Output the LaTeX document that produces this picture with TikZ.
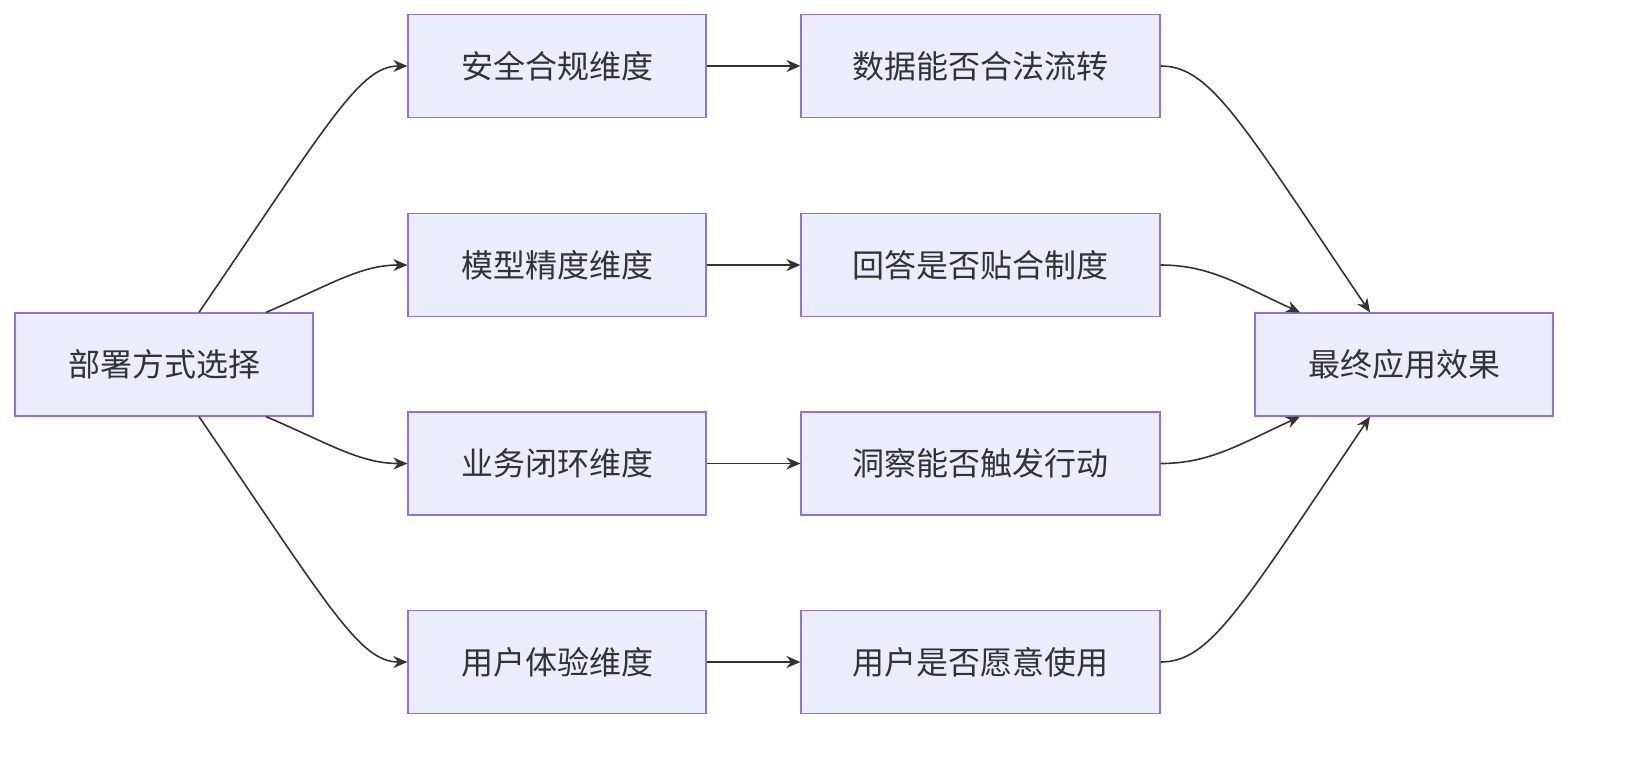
\documentclass[tikz,border=0pt]{standalone}
\usepackage{fontspec}
\setmainfont{Noto Sans CJK SC}
\usetikzlibrary{arrows.meta}
\definecolor{boxfill}{HTML}{ECECFF}
\definecolor{boxline}{HTML}{9370DB}
\definecolor{edge}{HTML}{333333}
\tikzset{
  box/.style = {draw = boxline, fill = boxfill, line width = 1.2pt, shape = rectangle, minimum width = 298pt, minimum height = 103pt, font = \fontsize{32}{38}\selectfont, text = edge},
  wide/.style = {box, minimum width = 359pt},
  link/.style = {draw = edge, line width = 1.6pt, -{Stealth[length = 14pt, width = 12pt]}}
}
\begin{document}
\begin{tikzpicture}[x = 1pt, y = -1pt]
\fill[white] (0,0) rectangle (1644,764);
\useasboundingbox (0,0) rectangle (1644,764);
\node[box] (choice) at (164,364.5) {部署方式选择};
\node[box] (safe) at (557,66) {安全合规维度};
\node[box] (model) at (557,265) {模型精度维度};
\node[box] (loop) at (557,463.5) {业务闭环维度};
\node[box] (user) at (557,662) {用户体验维度};
\node[wide] (flow) at (980.5,66) {数据能否合法流转};
\node[wide] (fit) at (980.5,265) {回答是否贴合制度};
\node[wide] (act) at (980.5,463.5) {洞察能否触发行动};
\node[wide] (will) at (980.5,662) {用户是否愿意使用};
\node[box] (result) at (1404,364.5) {最终应用效果};
% left fan
\draw[link] ([xshift = 35pt]choice.north) .. controls (330,120) and (360,66) .. (safe.west);
\draw[link] ([xshift = 102pt]choice.north) .. controls (330,285) and (360,265) .. (model.west);
\draw[link] ([xshift = 102pt]choice.south) .. controls (330,444) and (360,463.5) .. (loop.west);
\draw[link] ([xshift = 35pt]choice.south) .. controls (330,609) and (360,662) .. (user.west);
% middle
\draw[link] (safe) -- (flow);
\draw[link] (model) -- (fit);
\draw[link] (loop) -- (act);
\draw[link] (user) -- (will);
% right fan
\draw[link] (flow.east) .. controls (1210,66) and (1240,120) .. ([xshift = -34pt]result.north);
\draw[link] (fit.east) .. controls (1210,265) and (1240,285) .. ([xshift = -104pt]result.north);
\draw[link] (act.east) .. controls (1210,463.5) and (1240,444) .. ([xshift = -104pt]result.south);
\draw[link] (will.east) .. controls (1210,662) and (1240,609) .. ([xshift = -34pt]result.south);
\end{tikzpicture}
\end{document}
